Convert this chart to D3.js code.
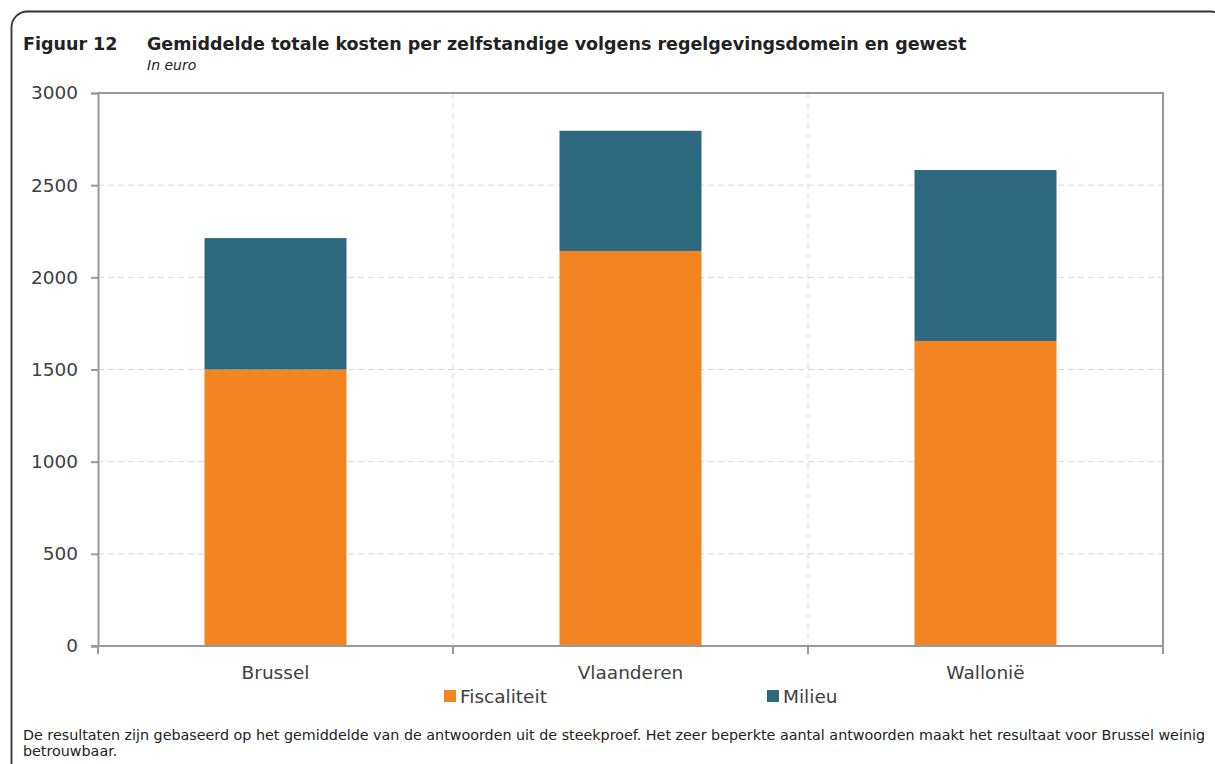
<!DOCTYPE html>
<html>
<head>
<meta charset="utf-8">
<script src="https://cdn.jsdelivr.net/npm/d3@7"></script>
<style>
  html, body { margin: 0; padding: 0; background: #fff; }
  svg { display: block; }
  text { font-family: "DejaVu Sans", sans-serif; fill: #404040; }
</style>
</head>
<body>
<svg id="chart" width="1215" height="764"></svg>
<script>
// Regions and cost per domain (euro)
const regions = ["Brussel", "Vlaanderen", "Wallonië"];
const fiscaliteit = [1500, 2143, 1655];
const milieu = [713, 652, 927];
const seriesNames = ["Fiscaliteit", "Milieu"];
const seriesColors = ["#F38422", "#2E687E"];
const yTicks = [0, 500, 1000, 1500, 2000, 2500, 3000];

const svg = d3.select("#chart");

// Rounded frame around the figure
svg.append("rect")
  .attr("x", 11.5).attr("y", 11.5)
  .attr("width", 1215).attr("height", 770)
  .attr("rx", 16).attr("ry", 16)
  .attr("fill", "none").attr("stroke", "#333").attr("stroke-width", 1.8);

// Title block
svg.append("text").attr("x", 23).attr("y", 50)
  .style("font-weight", "bold").style("font-size", "17.5px").style("fill", "#222")
  .text("Figuur 12");
svg.append("text").attr("x", 147).attr("y", 50)
  .style("font-weight", "bold").style("font-size", "17.5px").style("fill", "#222")
  .text("Gemiddelde totale kosten per zelfstandige volgens regelgevingsdomein en gewest");
svg.append("text").attr("x", 147).attr("y", 70)
  .style("font-style", "italic").style("font-size", "14px").style("fill", "#222")
  .text("In euro");

const margin = { left: 98, right: 1163, top: 93, bottom: 646 };

const x = d3.scaleBand().domain(regions)
  .range([margin.left, margin.right]).paddingInner(0).paddingOuter(0);
const y = d3.scaleLinear().domain([0, 3000]).range([margin.bottom, margin.top]);

// Horizontal dashed grid
svg.append("g").selectAll("line").data(yTicks.filter(d => d > 0 && d < 3000)).join("line")
  .attr("x1", margin.left).attr("x2", margin.right)
  .attr("y1", d => y(d)).attr("y2", d => y(d))
  .attr("stroke", "#d9d9d9").attr("stroke-width", 1).attr("stroke-dasharray", "6,4");

// Vertical dashed grid at category boundaries
svg.append("g").selectAll("line").data(regions.slice(1)).join("line")
  .attr("x1", d => x(d)).attr("x2", d => x(d))
  .attr("y1", margin.top).attr("y2", margin.bottom)
  .attr("stroke", "#d9d9d9").attr("stroke-width", 1).attr("stroke-dasharray", "6,4");

// Stacked bars
const rows = regions.map((r, i) => ({ region: r, Fiscaliteit: fiscaliteit[i], Milieu: milieu[i] }));
const stacked = d3.stack().keys(seriesNames)(rows);
const barW = x.bandwidth() * 0.4;

svg.append("g").selectAll("g").data(stacked).join("g")
  .attr("fill", (d, i) => seriesColors[i])
  .selectAll("rect").data(d => d).join("rect")
  .attr("x", d => x(d.data.region) + (x.bandwidth() - barW) / 2)
  .attr("width", barW)
  .attr("y", d => y(d[1]))
  .attr("height", d => y(d[0]) - y(d[1]));

// Plot border (top & right)
svg.append("path")
  .attr("d", `M${margin.left},${margin.top}H${margin.right}V${margin.bottom}`)
  .attr("fill", "none").attr("stroke", "#999").attr("stroke-width", 2);

// Y axis
const yAxis = svg.append("g").attr("transform", `translate(${margin.left},0)`)
  .call(d3.axisLeft(y).tickValues(yTicks).tickSize(7).tickPadding(13).tickFormat(d3.format("d")));
yAxis.select(".domain").attr("stroke", "#999").attr("stroke-width", 2);
yAxis.selectAll(".tick line").attr("stroke", "#999").attr("stroke-width", 2);
yAxis.selectAll(".tick text").style("font-size", "18.5px").style("font-family", "'DejaVu Sans', sans-serif").attr("fill", "#404040");

// X axis with ticks at band edges
const xAxis = svg.append("g").attr("transform", `translate(0,${margin.bottom})`);
xAxis.append("line")
  .attr("x1", margin.left - 7).attr("x2", margin.right)
  .attr("stroke", "#999").attr("stroke-width", 2);
const edges = regions.map(r => x(r)).concat([x(regions[regions.length - 1]) + x.bandwidth()]);
xAxis.selectAll("line.tk").data(edges).join("line").attr("class", "tk")
  .attr("x1", d => d).attr("x2", d => d).attr("y1", 0).attr("y2", 8)
  .attr("stroke", "#999").attr("stroke-width", 2);
xAxis.selectAll("text").data(regions).join("text")
  .attr("x", d => x(d) + x.bandwidth() / 2).attr("y", 33)
  .attr("text-anchor", "middle").style("font-size", "18.5px")
  .text(d => d);

// Legend
const legendX = [444, 767];
const legend = svg.append("g").selectAll("g").data(seriesNames).join("g")
  .attr("transform", (d, i) => `translate(${legendX[i]},690)`);
legend.append("rect").attr("width", 12).attr("height", 12).attr("fill", (d, i) => seriesColors[i]);
legend.append("text").attr("x", 16).attr("y", 13).style("font-size", "18.5px").text(d => d);

// Footnote
const note = svg.append("text").attr("x", 23).attr("y", 740).style("font-size", "14.3px").style("fill", "#222");
note.append("tspan").attr("x", 23)
  .text("De resultaten zijn gebaseerd op het gemiddelde van de antwoorden uit de steekproef. Het zeer beperkte aantal antwoorden maakt het resultaat voor Brussel weinig");
note.append("tspan").attr("x", 23).attr("dy", 16).text("betrouwbaar.");
</script>
</body>
</html>
